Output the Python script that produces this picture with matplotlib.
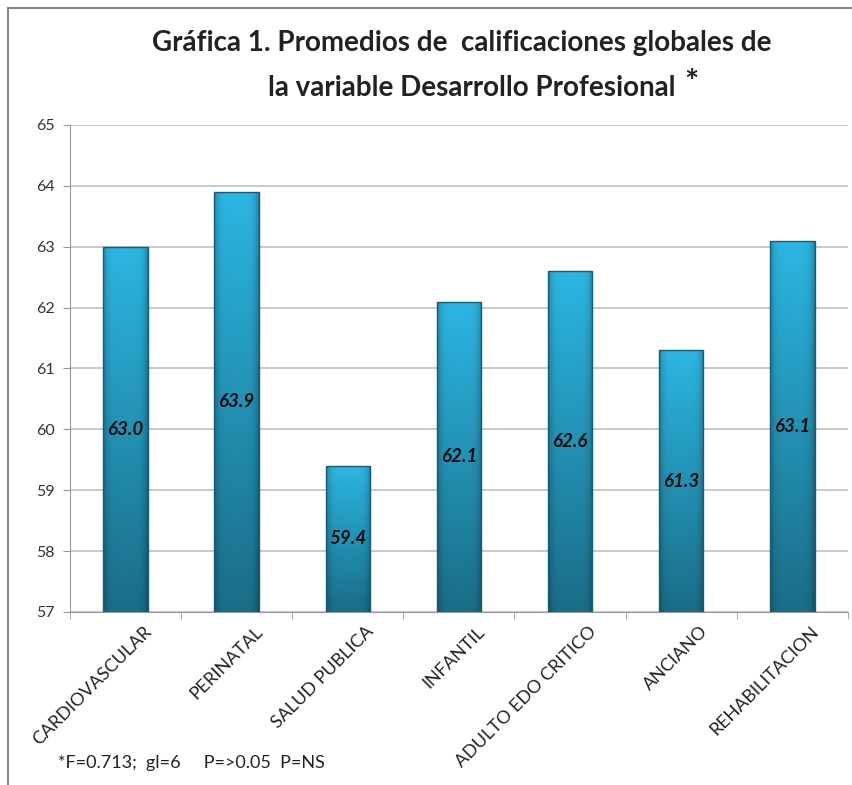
import numpy as np
import matplotlib
matplotlib.use('Agg')
import matplotlib.pyplot as plt
import matplotlib.transforms as mtransforms
from matplotlib.lines import Line2D

# datos de la grafica
areas = ['CARDIOVASCULAR', 'PERINATAL', 'SALUD PUBLICA', 'INFANTIL',
         'ADULTO EDO CRITICO', 'ANCIANO', 'REHABILITACION']
promedios = [63.0, 63.9, 59.4, 62.1, 62.6, 61.3, 63.1]
etiquetas = ['63.0', '63.9', '59.4', '62.1', '62.6', '61.3', '63.1']
y_ticks = [57, 58, 59, 60, 61, 62, 63, 64, 65]

titulo1 = 'Gráfica 1. Promedios de  calificaciones globales de'
titulo2 = 'la variable Desarrollo Profesional'
nota = '*F=0.713;  gl=6     P=>0.05  P=NS'

plt.rcParams['font.family'] = ['Lato', 'DejaVu Sans']

fig = plt.figure(figsize=(8.53, 7.85), dpi=100)
ax = fig.add_axes([0.082, 0.2204, 0.912, 0.6204])

x = np.arange(len(areas))
ancho = 0.40
bars = ax.bar(x, promedios, width=ancho, bottom=0, color='none',
              edgecolor='#155d74', linewidth=1.0, zorder=3)

# degradado de las barras (claro arriba, oscuro abajo, bordes mas oscuros)
top = np.array([0x2c, 0xb6, 0xe2]) / 255
bot = np.array([0x1a, 0x6d, 0x87]) / 255
vy = np.linspace(0, 1, 200)[:, None]
hx = np.linspace(-1, 1, 60)[None, :]
shade = 1 - 0.28 * np.abs(hx) ** 6
img = (bot[None, None, :] * (1 - vy[..., None]) + top[None, None, :] * vy[..., None]) * shade[..., None]
img = np.clip(img, 0, 1)
for b, v in zip(bars, promedios):
    im = ax.imshow(img, extent=[b.get_x(), b.get_x() + b.get_width(), 57, v],
                   origin='lower', aspect='auto', zorder=2, interpolation='bilinear')
    im.set_clip_path(b)

for xi, v, lab in zip(x, promedios, etiquetas):
    ax.text(xi, (57 + v) / 2, lab, ha='center', va='center', fontsize=13.5,
            fontweight='bold', fontstyle='italic', color='#0d0d0d', zorder=4)

ax.set_xlim(-0.5, len(areas) - 0.5)
ax.set_ylim(57, 65)
ax.set_yticks(y_ticks)
ax.set_yticklabels([str(t) for t in y_ticks], fontsize=11.5, color='#333333')
ax.yaxis.grid(True, color='#c0c0c0', linewidth=1.2, zorder=0)
ax.set_axisbelow(True)

ax.set_xticks(x)
ax.set_xticklabels(areas, rotation=45, ha='right', rotation_mode='anchor',
                   fontsize=13, color='#222222')
ax.tick_params(axis='x', length=0, pad=8)
desplaza = mtransforms.ScaledTranslation(18 / 100, 0, fig.dpi_scale_trans)
for t in ax.get_xticklabels():
    t.set_transform(t.get_transform() + desplaza)
ax.set_xticks(np.arange(len(areas) + 1) - 0.5, minor=True)
ax.tick_params(axis='x', which='minor', length=5, color='#999999')
ax.tick_params(axis='y', length=5, color='#999999', pad=6)

for s in ['top', 'right']:
    ax.spines[s].set_visible(False)
ax.spines['left'].set_color('#999999')
ax.spines['bottom'].set_color('#999999')

fig.text(0.541, 0.945, titulo1, ha='center', va='center', fontsize=20,
         fontweight='bold', color='#222222')
fig.text(0.553, 0.888, titulo2, ha='center', va='center', fontsize=20,
         fontweight='bold', color='#222222')
fig.text(0.802, 0.893, '*', ha='left', va='center', fontsize=24,
         fontweight='bold', color='#222222')
fig.text(0.068, 0.028, nota, ha='left', va='center', fontsize=13, color='#222222')

# marco de la grafica
fig.add_artist(Line2D([0.0094, 0.0094], [0, 0.99], color='#888888', lw=1.5))
fig.add_artist(Line2D([0.0094, 1.0], [0.99, 0.99], color='#888888', lw=1.5))

fig.savefig('out.png', dpi=100)
